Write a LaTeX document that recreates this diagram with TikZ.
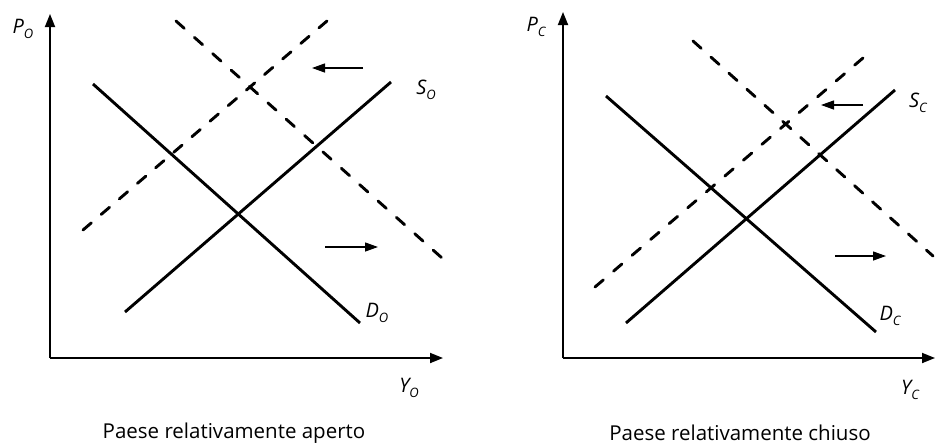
\documentclass[tikz,border=0pt]{standalone}
\usepackage{fontspec}
\setmainfont{Open Sans}
\usetikzlibrary{arrows.meta}
\tikzset{
  axis/.style={-{Triangle[length=13pt,width=10pt]}, line width=1.8pt},
  curve/.style={line width=2.9pt},
  shifted curve/.style={curve, line cap=round, dash pattern=on 11pt off #1},
  shifted curve/.default=13pt,
  shift arrow/.style={-{Triangle[length=13pt,width=9pt]}, line width=1.3pt},
  axis label/.style={font=\fontsize{20}{22}\selectfont\itshape, inner sep=0pt},
  caption/.style={font=\fontsize{20.5}{22}\selectfont, inner sep=0pt}
}
\newcommand{\sublab}[2]{#1\raisebox{-0.5ex}{\fontsize{13}{13}\selectfont #2}}

\begin{document}
\begin{tikzpicture}[x=1pt, y=-1pt]
  \useasboundingbox (0,0) rectangle (935,445);

  % open country
  \coordinate (oO) at (50,358);
  \coordinate (oP) at (50,14);
  \coordinate (oY) at (443,358);
  \draw[axis] (oO) -- (oP);
  \draw[axis] (oO) -- (oY);
  \coordinate (oD1) at (93,84);   \coordinate (oD2) at (360,323);
  \coordinate (oS1) at (125,312); \coordinate (oS2) at (391,82);
  \coordinate (oDd1) at (176,21); \coordinate (oDd2) at (442,258);
  \coordinate (oSd1) at (83,230); \coordinate (oSd2) at (327,21);
  \draw[curve] (oD1) -- (oD2);
  \draw[curve] (oS1) -- (oS2);
  \draw[shifted curve=13.6pt] (oDd1) -- (oDd2);
  \draw[shifted curve=12.9pt] (oSd1) -- (oSd2);
  \coordinate (oL1) at (363,68);  \coordinate (oL2) at (312,68);
  \coordinate (oR1) at (325,247); \coordinate (oR2) at (378,247);
  \draw[shift arrow] (oL1) -- (oL2);
  \draw[shift arrow] (oR1) -- (oR2);
  \node[axis label] (oPlab) at (23,29) {\sublab{P}{O}};
  \node[axis label] (oSlab) at (426,90) {\sublab{S}{O}};
  \node[axis label] (oDlab) at (377,313) {\sublab{D}{O}};
  \node[axis label] (oYlab) at (409,388) {\sublab{Y}{O}};
  \node[caption] (ocap) at (234,433) {Paese relativamente aperto};

  % closed country
  \coordinate (cO) at (563,358);
  \coordinate (cP) at (563,12);
  \coordinate (cY) at (935,358);
  \draw[axis] (cO) -- (cP);
  \draw[axis] (cO) -- (cY);
  \coordinate (cD1) at (606,96);  \coordinate (cD2) at (876,332);
  \coordinate (cS1) at (626,323); \coordinate (cS2) at (895,90);
  \coordinate (cDd1) at (693,41); \coordinate (cDd2) at (933,256);
  \coordinate (cSd1) at (595,287); \coordinate (cSd2) at (863,58);
  \draw[curve] (cD1) -- (cD2);
  \draw[curve] (cS1) -- (cS2);
  \draw[shifted curve=13.1pt] (cDd1) -- (cDd2);
  \draw[shifted curve=13.4pt] (cSd1) -- (cSd2);
  \coordinate (cL1) at (863,105); \coordinate (cL2) at (821,105);
  \coordinate (cR1) at (835,256); \coordinate (cR2) at (886,256);
  \draw[shift arrow] (cL1) -- (cL2);
  \draw[shift arrow] (cR1) -- (cR2);
  \node[axis label] (cPlab) at (536,27) {\sublab{P}{C}};
  \node[axis label] (cSlab) at (918,103) {\sublab{S}{C}};
  \node[axis label] (cDlab) at (890,316) {\sublab{D}{C}};
  \node[axis label] (cYlab) at (910,390) {\sublab{Y}{C}};
  \node[caption] (ccap) at (740,433) {Paese relativamente chiuso};
\end{tikzpicture}
\end{document}
